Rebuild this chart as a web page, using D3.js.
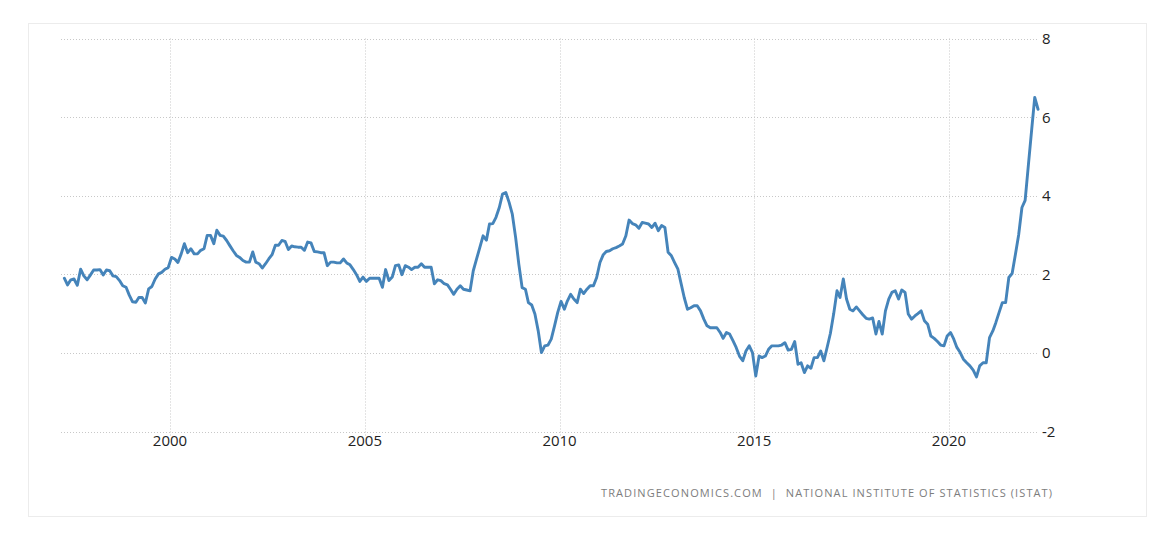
<!DOCTYPE html>
<meta charset="utf-8">
<script src="https://d3js.org/d3.v7.min.js"></script>
<style>
body { margin: 0; background: #fff; }
svg { display: block; }
</style>
<div id="chart"></div>
<script>
// monthly values, series starts April 1997
var v1997 = [1.90, 1.73, 1.86, 1.88, 1.72, 2.13, 1.96, 1.86, 1.98];
var v1998 = [2.11, 2.11, 2.12, 1.98, 2.11, 2.09, 1.96, 1.94, 1.84, 1.71, 1.67, 1.47];
var v1999 = [1.30, 1.29, 1.41, 1.41, 1.27, 1.63, 1.69, 1.88, 2.01, 2.05, 2.13, 2.17];
var v2000 = [2.43, 2.39, 2.30, 2.52, 2.78, 2.55, 2.65, 2.52, 2.52, 2.61, 2.65, 2.99];
var v2001 = [2.99, 2.78, 3.12, 2.99, 2.97, 2.86, 2.73, 2.60, 2.48, 2.43, 2.35, 2.31];
var v2002 = [2.31, 2.57, 2.31, 2.27, 2.16, 2.27, 2.39, 2.50, 2.74, 2.74, 2.86, 2.84];
var v2003 = [2.63, 2.72, 2.70, 2.69, 2.69, 2.61, 2.82, 2.80, 2.58, 2.57, 2.55, 2.55];
var v2004 = [2.22, 2.31, 2.31, 2.29, 2.29, 2.39, 2.29, 2.24, 2.12, 1.99, 1.82, 1.93];
var v2005 = [1.82, 1.90, 1.90, 1.90, 1.90, 1.67, 2.12, 1.84, 1.93, 2.22, 2.24, 1.99];
var v2006 = [2.22, 2.18, 2.12, 2.18, 2.18, 2.27, 2.18, 2.18, 2.18, 1.76, 1.86, 1.84];
var v2007 = [1.76, 1.73, 1.62, 1.49, 1.62, 1.71, 1.62, 1.60, 1.58, 2.09, 2.39, 2.68];
var v2008 = [2.98, 2.87, 3.28, 3.29, 3.45, 3.70, 4.04, 4.08, 3.83, 3.53, 2.94, 2.26];
var v2009 = [1.66, 1.62, 1.28, 1.22, 0.99, 0.56, 0.01, 0.18, 0.20, 0.35, 0.69, 1.03];
var v2010 = [1.31, 1.11, 1.32, 1.49, 1.37, 1.28, 1.62, 1.51, 1.62, 1.71, 1.71, 1.92];
var v2011 = [2.30, 2.50, 2.58, 2.60, 2.65, 2.68, 2.72, 2.77, 2.98, 3.38, 3.29, 3.26];
var v2012 = [3.17, 3.32, 3.30, 3.28, 3.19, 3.30, 3.11, 3.24, 3.19, 2.56, 2.47, 2.30];
var v2013 = [2.13, 1.75, 1.41, 1.11, 1.15, 1.20, 1.20, 1.07, 0.86, 0.69, 0.64, 0.64];
var v2014 = [0.64, 0.52, 0.37, 0.52, 0.48, 0.31, 0.14, -0.08, -0.20, 0.05, 0.18, 0.01];
var v2015 = [-0.59, -0.08, -0.12, -0.08, 0.09, 0.18, 0.18, 0.18, 0.20, 0.26, 0.07, 0.09];
var v2016 = [0.29, -0.29, -0.25, -0.50, -0.33, -0.39, -0.12, -0.12, 0.05, -0.20, 0.15, 0.50];
var v2017 = [1.00, 1.58, 1.41, 1.88, 1.37, 1.11, 1.07, 1.17, 1.07, 0.97, 0.88, 0.86];
var v2018 = [0.89, 0.48, 0.80, 0.48, 1.07, 1.37, 1.54, 1.58, 1.37, 1.60, 1.54, 0.99];
var v2019 = [0.86, 0.94, 1.00, 1.07, 0.82, 0.73, 0.43, 0.37, 0.29, 0.20, 0.18, 0.43];
var v2020 = [0.52, 0.35, 0.14, 0.01, -0.16, -0.25, -0.33, -0.44, -0.61, -0.33, -0.25, -0.25];
var v2021 = [0.39, 0.56, 0.77, 1.03, 1.28, 1.28, 1.92, 2.02, 2.51, 3.00, 3.70, 3.88];
var v2022 = [4.80, 5.70, 6.50, 6.20];

var xTickYears = [2000, 2005, 2010, 2015, 2020];
var yTicks = [-2, 0, 2, 4, 6, 8];
var sourceText = "TRADINGECONOMICS.COM  |  NATIONAL INSTITUTE OF STATISTICS (ISTAT)";

var values = [].concat(v1997, v1998, v1999, v2000, v2001, v2002, v2003, v2004,
  v2005, v2006, v2007, v2008, v2009, v2010, v2011, v2012, v2013, v2014,
  v2015, v2016, v2017, v2018, v2019, v2020, v2021, v2022);

// first value is April 1997, one point per month (mid month)
var data = values.map(function(v, i) {
  return { date: new Date(1997, 3 + i, 15), value: v };
});

var width = 1172, height = 544;

var svg = d3.select("#chart")
  .append("svg")
    .attr("width", width)
    .attr("height", height);

// panel border
svg.append("rect")
  .attr("x", 28.5)
  .attr("y", 23.5)
  .attr("width", 1118)
  .attr("height", 493)
  .attr("fill", "#fff")
  .attr("stroke", "#ececec");

var x = d3.scaleTime()
  .domain([new Date(2000, 0, 1), new Date(2020, 0, 1)])
  .range([170, 949]);

var y = d3.scaleLinear()
  .domain([-2, 8])
  .range([431.5, 38.5]);

var gridLeft = 61, gridRight = 1038;

// horizontal grid lines
svg.append("g")
  .selectAll("line")
  .data(yTicks)
  .enter()
  .append("line")
    .attr("x1", gridLeft)
    .attr("x2", gridRight)
    .attr("y1", function(d) { return Math.round(y(d)) + 0.5; })
    .attr("y2", function(d) { return Math.round(y(d)) + 0.5; })
    .attr("stroke", "#c8c8c8")
    .attr("stroke-dasharray", "1,2");

// vertical grid lines
svg.append("g")
  .selectAll("line")
  .data(xTickYears)
  .enter()
  .append("line")
    .attr("x1", function(d) { return Math.round(x(new Date(d, 0, 1))) + 0.5; })
    .attr("x2", function(d) { return Math.round(x(new Date(d, 0, 1))) + 0.5; })
    .attr("y1", y(8))
    .attr("y2", y(-2) + 6)
    .attr("stroke", "#c8c8c8")
    .attr("stroke-dasharray", "1,2");

// y labels on the right
svg.append("g")
  .selectAll("text")
  .data(yTicks)
  .enter()
  .append("text")
    .attr("x", 1042)
    .attr("y", function(d) { return y(d); })
    .attr("dy", "0.36em")
    .attr("font-family", "'Open Sans', sans-serif")
    .attr("font-size", 15)
    .attr("fill", "#222")
    .text(function(d) { return d; });

// x labels
svg.append("g")
  .selectAll("text")
  .data(xTickYears)
  .enter()
  .append("text")
    .attr("x", function(d) { return x(new Date(d, 0, 1)); })
    .attr("y", 446)
    .attr("text-anchor", "middle")
    .attr("font-family", "'Open Sans', sans-serif")
    .attr("font-size", 15)
    .attr("fill", "#222")
    .text(function(d) { return d; });

// the series
var line = d3.line()
  .x(function(d) { return x(d.date); })
  .y(function(d) { return y(d.value); });

svg.append("path")
  .datum(data)
  .attr("d", line)
  .attr("fill", "none")
  .attr("stroke", "#4584ba")
  .attr("stroke-width", 2.9)
  .attr("stroke-linejoin", "round")
  .attr("stroke-linecap", "round");

// source
svg.append("text")
  .attr("x", 1052)
  .attr("y", 497)
  .attr("text-anchor", "end")
  .attr("font-family", "'Open Sans', sans-serif")
  .attr("font-size", 11)
  .attr("fill", "#7d7d7d")
  .attr("textLength", 451)
  .attr("xml:space", "preserve")
  .text(sourceText);
</script>
